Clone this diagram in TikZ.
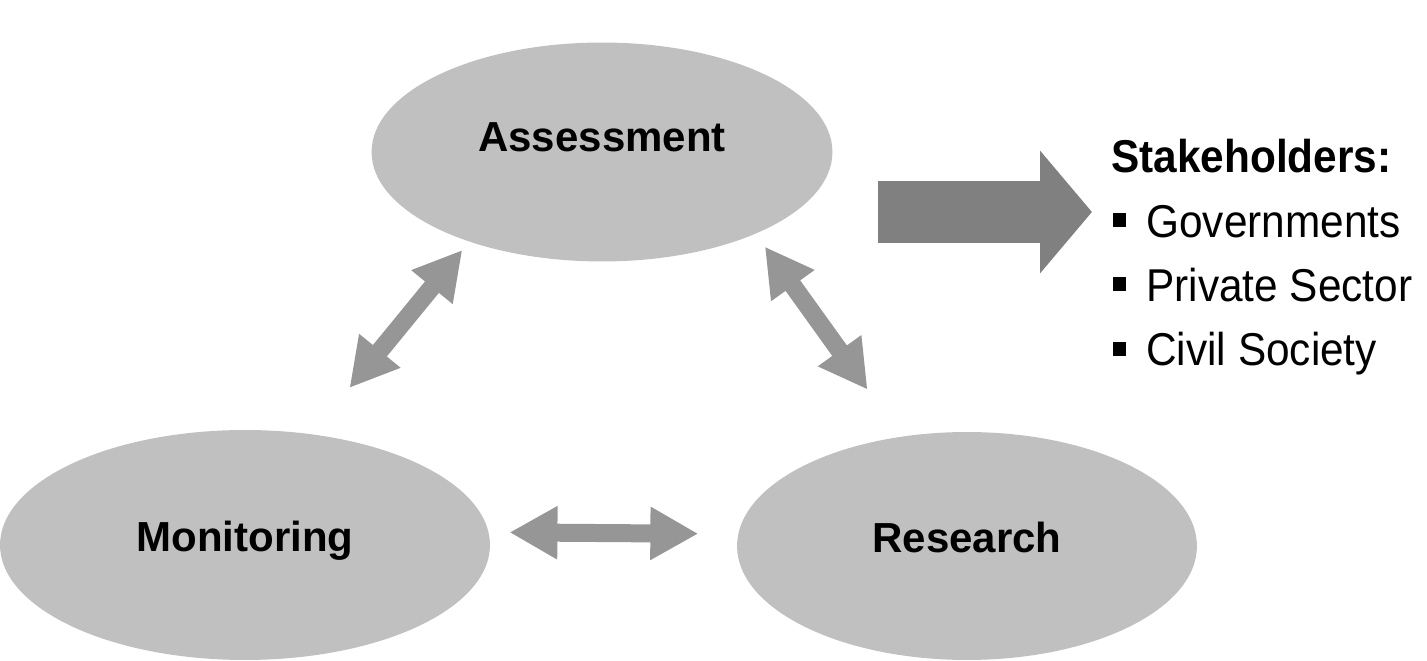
\documentclass[tikz,border=0pt]{standalone}
\usepackage{fontspec}
\setmainfont{Liberation Sans}
\newfontfamily\listfont[FakeStretch=0.92]{Liberation Sans}
\usetikzlibrary{arrows.meta, positioning, shapes.geometric}
\definecolor{bubble}{HTML}{C0C0C0}
\definecolor{linkgray}{HTML}{969696}
\definecolor{pushgray}{HTML}{808080}
\newcommand{\sqbullet}{\hspace{0.04cm}\raisebox{0.2cm}{\rule{0.26cm}{0.28cm}}\hspace{0.4cm}}

\begin{document}
\begin{tikzpicture}[
    x=0.02cm, y=-0.02cm,
    every node/.style={font=\bfseries\fontsize{23.9pt}{28pt}\selectfont},
    area/.style={ellipse, fill=bubble, inner sep=0pt, outer sep=0pt, text height=0.6cm, text depth=0.6cm},
    link/.style={{Triangle[width=1.0cm, length=0.96cm]}-{Triangle[width=1.0cm, length=0.96cm]}, line width=0.36cm, color=linkgray},
    push/.style={-{Triangle[width=2.4cm, length=1.04cm]}, line width=1.24cm, color=pushgray},
    item/.style={font=\listfont\fontsize{26.2pt}{36pt}\selectfont, inner sep=0pt, text height=0.8cm, text depth=0.47cm, anchor=north west}
]
\useasboundingbox (0,0) rectangle (1427,661);

\node[area, minimum width=9.22cm, minimum height=4.38cm] (assess) at (602,152) {Assessment};
\node[area, minimum width=9.8cm, minimum height=4.6cm, text depth=0.32cm] (monit) at (245,545) {Monitoring};
\node[area, minimum width=9.2cm, minimum height=4.56cm, text depth=0.32cm] (research) at (967,546) {Research};

\draw[link, shorten <=0.22cm, shorten >=1.2cm] (assess.214) -- (monit.59);
\draw[link, shorten <=0.32cm, shorten >=1.16cm] (assess.332) -- (research.121);
\draw[link, shorten <=0.42cm, shorten >=0.8cm] (monit.3) -- (research.177);

% stakeholder list
\node[item, font=\listfont\bfseries\fontsize{26.2pt}{36pt}\selectfont, anchor=base west] (stake) at (1111,173) {Stakeholders:};
\node[item, below=0pt of stake.south west, anchor=north west] (gov) {\sqbullet Governments};
\node[item, below=0pt of gov.south west, anchor=north west] (priv) {\sqbullet Private Sector};
\node[item, below=0pt of priv.south west, anchor=north west] (civil) {\sqbullet Civil Society};

\coordinate (tail) at (878,212);
\draw[push, shorten >=0.38cm] (tail) -- (stake.west |- tail);
\end{tikzpicture}
\end{document}
